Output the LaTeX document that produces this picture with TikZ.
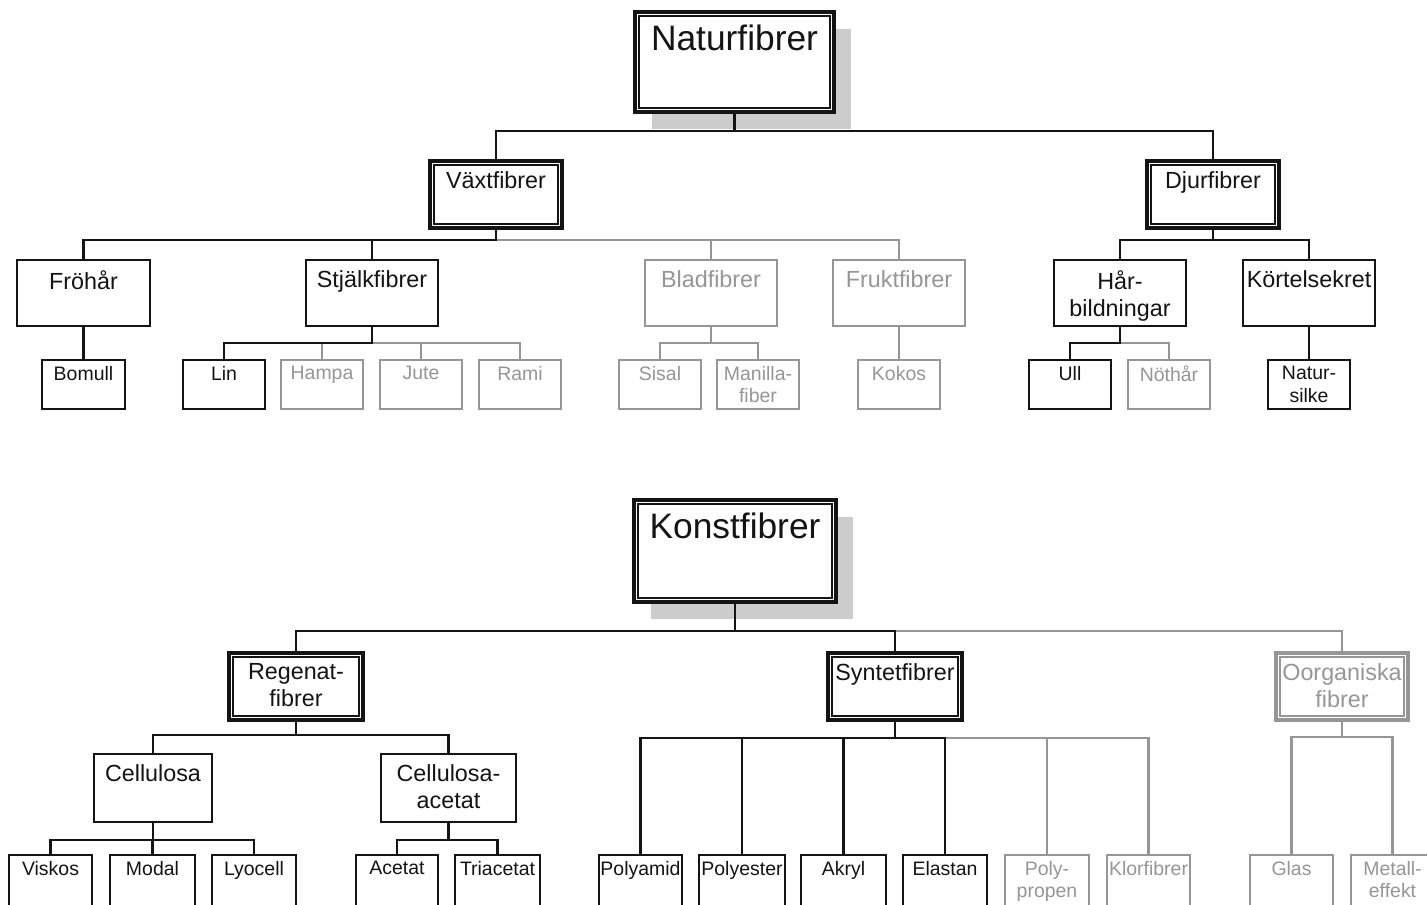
\documentclass[tikz,border=0pt]{standalone}
\usepackage{fontspec}
\setmainfont{Liberation Sans}
\usetikzlibrary{shadows}
\definecolor{lg}{RGB}{150,150,150}
\definecolor{shd}{RGB}{204,204,204}
\definecolor{bk}{RGB}{20,20,20}
\tikzset{
  bxnode/.style={inner sep=0pt, outer sep=0pt, fill=white, line width=1.6pt},
  dblbox/.style={line width=2.4pt},
  shadowed/.style={drop shadow={shadow xshift=12.75pt, shadow yshift=-12.75pt, opacity=1, fill=shd}},
  toplbl/.style={anchor=north, inner sep=0pt, align=center, yshift=-9.75pt, font=\fontsize{26.5pt}{32pt}\selectfont},
  midlbl/.style={anchor=north, inner sep=0pt, align=center, yshift=-7.5pt, font=\fontsize{17.5pt}{20.6pt}\selectfont},
  smalllbl/.style={anchor=north, inner sep=0pt, align=center, yshift=-4.5pt, font=\fontsize{14.6pt}{16.9pt}\selectfont},
  cb/.style={draw=bk, line width=1.6pt},
  cg/.style={draw=lg, line width=1.6pt},
}
% level, colour, extra, name, x1, y1, x2, y2, text
\newcommand\bx[9]{\node[bxnode, draw=#2, #3, minimum width={(#7-#5)*0.75pt}, minimum height={(#8-#6)*0.75pt}, label={[#1lbl, text=#2]north:#9}] (#4) at ({(#5+#7)/2},{(#6+#8)/2}) {};}
\newcommand\inr[2]{\draw[draw=#2, line width=1.4pt] ([shift={(4.3,4.3)}]#1.north west) rectangle ([shift={(-4.3,-4.3)}]#1.south east);}
\begin{document}
\begin{tikzpicture}[x=0.75pt, y=-0.75pt]
\useasboundingbox (0,0) rectangle (1427,904);
\fill[white] (0,0) rectangle (1427,904);
\clip (0,0) rectangle (1427,904);
% ---------- Naturfibrer ----------
\bx{top}{bk}{dblbox,shadowed}{N}{635}{12}{834}{112}{Naturfibrer}
\inr{N}{bk}
\bx{mid}{bk}{dblbox}{V}{430}{161}{562}{228}{Växtfibrer}
\inr{V}{bk}
\bx{mid}{bk}{dblbox}{D}{1147}{161}{1279}{228}{Djurfibrer}
\inr{D}{bk}
\bx{mid}{bk}{}{F1}{17}{260}{150}{326}{Fröhår}
\bx{mid}{bk}{}{St}{306}{260}{438}{326}{Stjälkfibrer}
\bx{mid}{lg}{}{Bl}{645}{260}{777}{326}{Bladfibrer}
\bx{mid}{lg}{}{Fr}{833}{260}{965}{326}{Fruktfibrer}
\bx{mid}{bk}{}{Ha}{1054}{260}{1186}{326}{Hår-\\bildningar}
\bx{mid}{bk}{}{Ko}{1243}{260}{1375}{326}{Körtelsekret}
\bx{small}{bk}{}{Bo}{42}{360}{125}{409}{Bomull}
\bx{small}{bk}{}{Li}{183}{360}{265}{409}{Lin}
\bx{small}{lg}{}{Hm}{281}{360}{363}{409}{Hampa}
\bx{small}{lg}{}{Ju}{380}{360}{462}{409}{Jute}
\bx{small}{lg}{}{Ra}{479}{360}{561}{409}{Rami}
\bx{small}{lg}{}{Si}{619}{360}{701}{409}{Sisal}
\bx{small}{lg}{}{Ma}{717}{360}{799}{409}{Manilla-\\fiber}
\bx{small}{lg}{}{Kk}{858}{360}{940}{409}{Kokos}
\bx{small}{bk}{}{Ul}{1029}{360}{1111}{409}{Ull}
\bx{small}{lg}{}{Nh}{1128}{360}{1210}{409}{Nöthår}
\bx{small}{bk}{}{Ns}{1268}{360}{1350}{409}{Natur-\\silke}
% connectors
\draw[cb] (N.south) -- ++(0,19) -| (V.north);
\draw[cb] (N.south) -- ++(0,19) -| (D.north);
\draw[cg] (V.south) -- ++(0,12) -| (Bl.north);
\draw[cg] (V.south) -- ++(0,12) -| (Fr.north);
\draw[cb] (V.south) -- ++(0,12) -| (F1.north);
\draw[cb] (V.south) -- ++(0,12) -| (St.north);
\draw[cb] (D.south) -- ++(0,12) -| (Ha.north);
\draw[cb] (D.south) -- ++(0,12) -| (Ko.north);
\draw[cb] (F1.south) -- (Bo.north);
\draw[cg] (St.south) -- ++(0,17) -| (Hm.north);
\draw[cg] (St.south) -- ++(0,17) -| (Ju.north);
\draw[cg] (St.south) -- ++(0,17) -| (Ra.north);
\draw[cb] (St.south) -- ++(0,17) -| (Li.north);
\draw[cg] (Bl.south) -- ++(0,17) -| (Si.north);
\draw[cg] (Bl.south) -- ++(0,17) -| (Ma.north);
\draw[cg] (Fr.south) -- (Kk.north);
\draw[cg] (Ha.south) -- ++(0,17) -| (Nh.north);
\draw[cb] (Ha.south) -- ++(0,17) -| (Ul.north);
\draw[cb] (Ko.south) -- (Ns.north);
% ---------- Konstfibrer ----------
\bx{top}{bk}{dblbox,shadowed}{K}{634}{500}{836}{602}{Konstfibrer}
\inr{K}{bk}
\bx{mid}{bk}{dblbox}{Re}{229}{653}{363}{720}{Regenat-\\fibrer}
\inr{Re}{bk}
\bx{mid}{bk}{dblbox}{Sy}{828}{653}{962}{720}{Syntetfibrer}
\inr{Sy}{bk}
\bx{mid}{lg}{dblbox}{Oo}{1276}{653}{1408}{720}{Oorganiska\\fibrer}
\inr{Oo}{lg}
\bx{mid}{bk}{}{Ce}{94}{754}{212}{822}{Cellulosa}
\bx{mid}{bk}{}{Ca}{381}{754}{516}{822}{Cellulosa-\\acetat}
\bx{small}{bk}{}{Vi}{9}{855}{92}{906}{Viskos}
\bx{small}{bk}{}{Mo}{110}{855}{195}{906}{Modal}
\bx{small}{bk}{}{Ly}{212}{855}{296}{906}{Lyocell}
\bx{small}{bk}{}{Ac}{356}{855}{438}{906}{Acetat}
\bx{small}{bk}{}{Tr}{455}{855}{540}{906}{Triacetat}
\bx{small}{bk}{}{Pa}{599}{855}{682}{906}{Polyamid}
\bx{small}{bk}{}{Pe}{699}{855}{785}{906}{Polyester}
\bx{small}{bk}{}{Ak}{801}{855}{886}{906}{Akryl}
\bx{small}{bk}{}{El}{903}{855}{987}{906}{Elastan}
\bx{small}{lg}{}{Pp}{1005}{855}{1089}{906}{Poly-\\propen}
\bx{small}{lg}{}{Kl}{1107}{855}{1190}{906}{Klorfibrer}
\bx{small}{lg}{}{Gl}{1250}{855}{1333}{906}{Glas}
\bx{small}{lg}{}{Me}{1351}{855}{1434}{906}{Metall-\\effekt}
% connectors
\draw[cg] (K.south) -- ++(0,29) -| (Oo.north);
\draw[cb] (K.south) -- ++(0,29) -| (Re.north);
\draw[cb] (K.south) -- ++(0,29) -| (Sy.north);
\draw[cb] (Re.south) -- ++(0,15) -| (Ce.north);
\draw[cb] (Re.south) -- ++(0,15) -| (Ca.north);
\draw[cg] (Sy.south) -- ++(0,18) -| (Pp.north);
\draw[cg] (Sy.south) -- ++(0,18) -| (Kl.north);
\draw[cb] (Sy.south) -- ++(0,18) -| (Pa.north);
\draw[cb] (Sy.south) -- ++(0,18) -| (Pe.north);
\draw[cb] (Sy.south) -- ++(0,18) -| (Ak.north);
\draw[cb] (Sy.south) -- ++(0,18) -| (El.north);
\draw[cg] (Oo.south) -- ++(0,17) -| (Gl.north);
\draw[cg] (Oo.south) -- ++(0,17) -| (Me.north);
\draw[cb] (Ce.south) -- ++(0,18) -| (Vi.north);
\draw[cb] (Ce.south) -- ++(0,18) -| (Mo.north);
\draw[cb] (Ce.south) -- ++(0,18) -| (Ly.north);
\draw[cb] (Ca.south) -- ++(0,18) -| (Ac.north);
\draw[cb] (Ca.south) -- ++(0,18) -| (Tr.north);
\end{tikzpicture}
\end{document}
